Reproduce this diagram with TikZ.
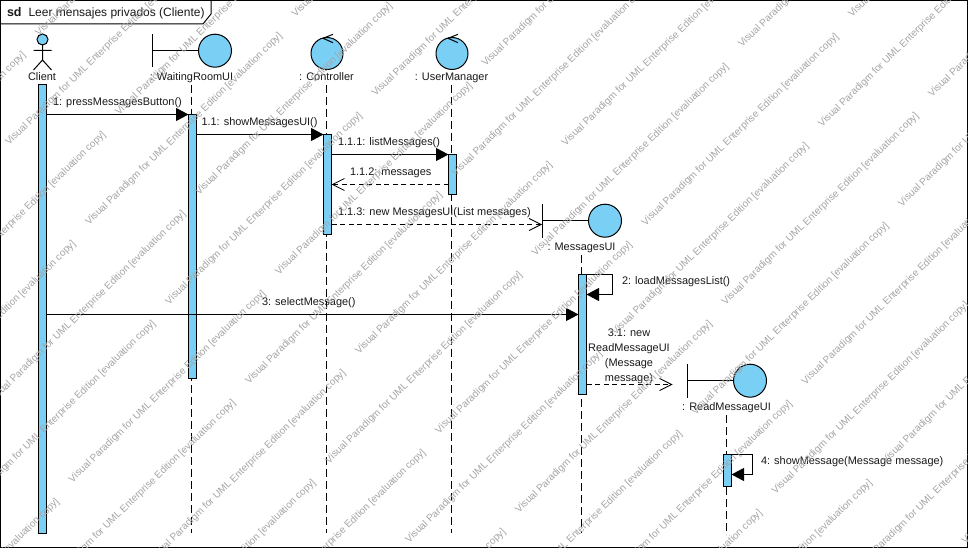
\documentclass[tikz,border=0pt]{standalone}
\usepackage{fontspec}
\setmainfont{Liberation Sans}
\usetikzlibrary{arrows.meta}
\definecolor{vpblue}{RGB}{122,207,245}
\definecolor{wmgray}{RGB}{165,165,165}
\tikzset{
  lblbase/.style={inner sep=0,outer sep=0,font=\fontsize{10.95}{15}\selectfont,text=black!90},
  lbl/.style={lblbase,text height=8.5pt,text depth=2pt},
  head/.style={lbl,minimum height=16pt},
  act/.style={draw,fill=vpblue,rectangle,inner sep=0,outer sep=0,minimum width=8pt},
  ball/.style={draw,fill=vpblue,circle,inner sep=0,outer sep=0},
  life/.style={dash pattern=on 8pt off 4pt},
  syncm/.style={-{Triangle[length=12.5pt,width=13pt,fill=black]}},
  retm/.style={dash pattern=on 5pt off 3.5pt,-{Straight Barb[length=12pt,width=12pt,line width=0.8pt]}},
  wm/.style={inner sep=0,outer sep=0,anchor=base west,rotate=44.3,text=wmgray,font=\fontsize{10}{12}\selectfont}
}
\newcommand{\wmtext}{Visual Paradigm for UML Enterprise Edition [evaluation copy]}
\begin{document}
\begin{tikzpicture}[x=1pt,y=-1pt,line width=1pt]
\useasboundingbox (0,0) rectangle (968,548);
\fill[white] (0,0) rectangle (968,548);
% lifelines' ends
\coordinate (endwr) at (191.5,533);
\coordinate (endct) at (326.5,533);
\coordinate (endum) at (451.5,533);
\coordinate (endmu) at (581.5,533);
\coordinate (endrm) at (726.5,535);
% heads
\node[head] (lclient) at (42,77) {Client};
\node[head] (lwr) at (191.5,77) {: WaitingRoomUI};
\node[head] (lct) at (326.5,77) {: Controller};
\node[head] (lum) at (451.5,77) {: UserManager};
\node[head] (lmu) at (581.5,247) {: MessagesUI};
\node[head] (lrm) at (726.5,407) {: ReadMessageUI};
\draw[life] (lwr.south) -- (endwr);
\draw[life] (lct.south) -- (endct);
\draw[life] (lum.south) -- (endum);
\draw[life] (lmu.south) -- (endmu);
\draw[life] (lrm.south) -- (endrm);
% actor
\node[ball,minimum size=11pt] (chead) at (42.5,39.5) {};
\coordinate (hip) at (42.5,60);
\draw (chead.south) -- (hip) (33.5,50.5) -- (51.5,50.5) (33.5,70) -- (hip) -- (51.5,70);
% boundaries
\node[ball,minimum size=33pt] (bwr) at (215,50.7) {};
\draw (152.5,34) -- (152.5,67.5) (152.5,50.7) -- (bwr.west);
\node[ball,minimum size=33pt] (bmu) at (605,220.7) {};
\draw (542.5,204) -- (542.5,237.5) (542.5,220.7) -- (bmu.west);
\node[ball,minimum size=33pt] (brm) at (750,380.7) {};
\draw (687.5,364) -- (687.5,397.5) (687.5,380.7) -- (brm.west);
% controls
\node[ball,minimum size=32pt] (cct) at (327,53.5) {};
\draw (333,34.3) -- (323,38.3) -- (333,42.7);
\node[ball,minimum size=32pt] (cum) at (452,53.5) {};
\draw (458,34.3) -- (448,38.3) -- (458,42.7);
% activations
\node[act,minimum height=448.5pt] (aclient) at (42.5,308.75) {};
\node[act,minimum height=264pt] (awr) at (192.5,246.5) {};
\node[act,minimum height=100pt] (act1) at (327.5,184.5) {};
\node[act,minimum height=40pt] (aum) at (452.5,174.5) {};
\node[act,minimum height=120pt] (amu) at (582.5,334.5) {};
\node[act,minimum height=32pt] (arm) at (727.5,470.5) {};
% messages
\draw[syncm] (aclient.east |- 0,114.5) -- (awr.west |- 0,114.5);
\draw[syncm] (awr.east |- 0,134.5) -- (act1.west |- 0,134.5);
\draw[syncm] (act1.east |- 0,154.5) -- (aum.west |- 0,154.5);
\draw[retm] (aum.west |- 0,184.5) -- (act1.east |- 0,184.5);
\draw[retm] (act1.east |- 0,224.5) -- (542,224.5) coordinate (newmu);
\draw[syncm] (amu.east |- 0,274.5) -- (612.5,274.5) -- (612.5,294.5) -- (amu.east |- 0,294.5);
\draw[syncm] (aclient.east |- 0,314.5) -- (amu.west |- 0,314.5);
\draw[retm] (amu.east |- 0,384.5) -- (672.5,384.5) coordinate (newrm);
\draw[syncm] (arm.east |- 0,454.5) -- (752.5,454.5) -- (752.5,474.5) -- (arm.east |- 0,474.5);
% labels
\node[lbl,anchor=west] (t1) at (53,102) {1: pressMessagesButton()};
\node[lbl,anchor=west] (t11) at (201.5,122) {1.1: showMessagesUI()};
\node[lbl,anchor=west] (t111) at (338,142) {1.1.1: listMessages()};
\node[lbl,anchor=west] (t112) at (350,172) {1.1.2: messages};
\node[lbl,anchor=west] (t113) at (338,212) {1.1.3: new MessagesUI(List messages)};
\node[lbl,anchor=west] (t2) at (622,281) {2: loadMessagesList()};
\node[lbl,anchor=west] (t3) at (262,302) {3: selectMessage()};
\node[lblbase,align=center] (t31) at (629,356.5) {3.1: new\\ReadMessageUI\\(Message\\message)};
\node[lbl,anchor=west] (t4) at (761,461.5) {4: showMessage(Message message)};
% frame
\draw (211,0) -- (211,14) -- (203,24) -- (0,24);
\node[lbl,anchor=west,font=\fontsize{12.5}{15}\bfseries\selectfont] (sd) at (7,13) {sd};
\node[lbl,anchor=west,font=\fontsize{12}{15}\selectfont] (title) at (28.5,13) {Leer mensajes privados (Cliente)};
\draw (0.5,0.5) rectangle (967.5,547.5);
% watermark
\begin{scope}
\clip (0,0) rectangle (968,548);
\foreach \k in {-3,...,3}{
  \foreach \j in {0,1}{
    \foreach \i in {-7,...,9}{
      \pgfmathsetmacro{\wx}{9+80*\i+110*\j+206.5*\k}
      \pgfmathsetmacro{\wy}{146+79.5*\i-30*\j-208*\k}
      \pgfmathparse{and(and(\wx<968,\wx+200>0),and(\wy>0,\wy-195<548))?1:0}
      \ifnum\pgfmathresult=1
        \node[wm] at (\wx,\wy) {\wmtext};
      \fi
    }
  }
}
\end{scope}
\end{tikzpicture}
\end{document}
